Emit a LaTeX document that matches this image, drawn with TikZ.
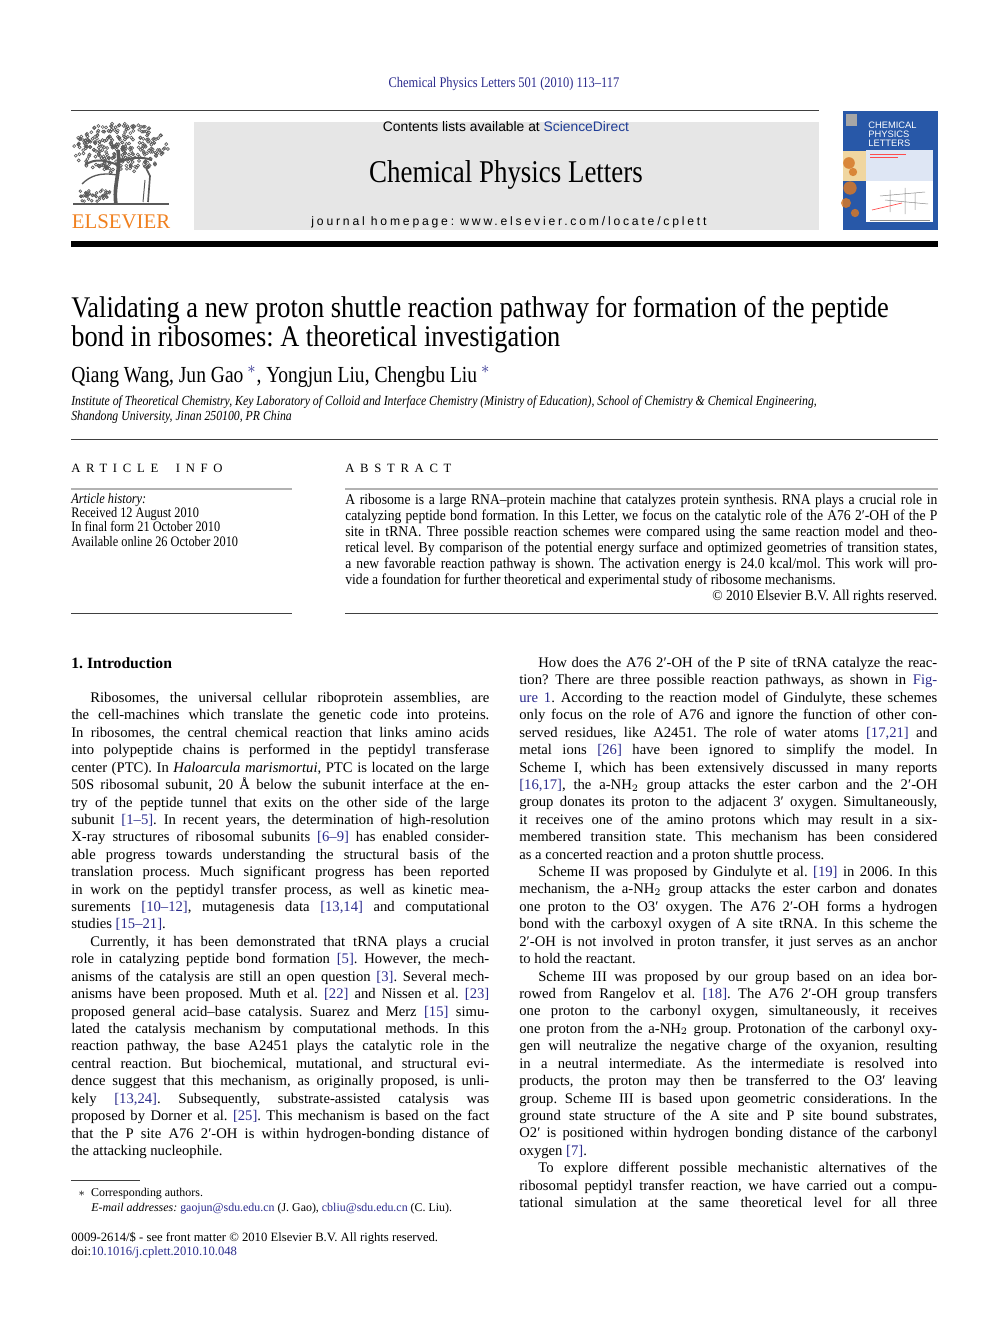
\documentclass[tikz,border=0pt]{standalone}
\usepackage{fontspec}
\setmainfont{Liberation Serif}
\setsansfont{Liberation Sans}
\newfontfamily\condfont{Liberation Serif}[FakeStretch=0.85, Ligatures=TeX]
\newfontfamily\titlefont{Liberation Serif}[FakeStretch=0.88, Ligatures=TeX]
\newfontfamily\absfont{Liberation Serif}[FakeStretch=0.91, Ligatures=TeX]
\newfontfamily\bodyfont{Liberation Serif}[Ligatures=TeX]
\newfontfamily\spacedsans{Liberation Sans}[LetterSpace=23]
\newfontfamily\spacedserif{Liberation Serif}[LetterSpace=45]
\frenchspacing

\definecolor{citeblue}{RGB}{42,42,140}
\definecolor{sdblue}{RGB}{30,60,150}
\definecolor{elsorange}{RGB}{240,128,30}
\definecolor{boxgray}{RGB}{230,230,230}
\definecolor{coverblue}{RGB}{40,88,168}
\definecolor{coverpeach}{RGB}{240,214,160}
\definecolor{coverpale}{RGB}{222,230,244}
\definecolor{coverorange}{RGB}{214,120,40}
\definecolor{treeink}{RGB}{90,90,90}

% one justified line, a last line, an indented line
\newcommand\fullline[1]{\hbox to\hsize{#1}}
\newcommand\lastline[1]{\hbox to\hsize{#1\hfil}}
\newcommand\indline[1]{\hbox to\hsize{\hskip11.4pt #1}}
\newcommand\rf[1]{\textcolor{citeblue}{#1}}
\newcommand\pr{′}

\tikzset{
  txt/.style={inner sep=0pt, anchor=base west},
  thinrule/.style={draw=black!75, line width=0.6pt},
  greyrule/.style={draw=black!30, line width=1.2pt},
}

\begin{document}
\begin{tikzpicture}[x=0.6pt, y=-0.6pt]
\useasboundingbox (0,0) rectangle (992,1323);

% journal header
\node[txt, anchor=base, text=citeblue, font=\condfont\fontsize{8.8}{10}\selectfont] (jref) at (504,87.5)
  {Chemical Physics Letters 501 (2010) 113--117};
\draw[thinrule] (71,111) -- (819,111);
\fill[boxgray] (194,122) rectangle (819,230);
\node[txt, anchor=base, font=\sffamily\fontsize{8.3}{9}\selectfont] (contents) at (506,132)
  {Contents lists available at \textcolor{sdblue}{ScienceDirect}};
\node[txt, anchor=base, font=\condfont\fontsize{19}{22}\selectfont] (jname) at (506,183)
  {Chemical Physics Letters};
\node[txt, anchor=base, font=\spacedsans\fontsize{7.3}{9}\selectfont] (homepage) at (509,225)
  {journal homepage: www.elsevier.com/locate/cplett};

% elsevier tree
\begin{scope}[treeink, line width=0.4pt]
  \pgfmathsetseed{11}
  \foreach \i in {1,...,300}{
    \pgfmathsetmacro\ang{rnd*360}
    \pgfmathsetmacro\rad{sqrt(rnd)}
    \draw ({120+48*\rad*cos(\ang)},{148+25*\rad*sin(\ang)}) circle[radius=0.9pt];
  }
  \draw[line width=2.2pt] (116,204) .. controls (113,186) and (121,172) .. (118,150);
  \draw[line width=1.2pt] (118,165) .. controls (105,160) and (95,158) .. (85,165);
  \draw[line width=1.2pt] (119,162) .. controls (130,158) and (140,156) .. (152,160);
  \draw[line width=0.8pt] (117,175) .. controls (100,172) and (90,176) .. (82,184);
  \draw[line width=1pt] (148,202) -- (150,176) -- (146,168);
  \draw (146,164) circle[radius=2pt];
  \draw[line width=0.6pt] (143,202) -- (145,180);
  \foreach \i in {1,...,40}{
    \pgfmathsetmacro\gx{80+rnd*30}
    \pgfmathsetmacro\gy{190+rnd*12}
    \draw ({\gx},{\gy}) circle[radius=0.8pt];
  }
  \draw[line width=0.8pt] (73,204) -- (169,204);
\end{scope}
\node[txt, anchor=base, text=elsorange, font=\bodyfont\fontsize{12.5}{14}\selectfont] (elsevier) at (121,228)
  {ELSEVIER};

% journal cover
\fill[coverblue] (843,111) rectangle (938,230);
\fill[coverpeach] (843,151) rectangle (866,181);
\fill[coverpale] (866,150) rectangle (933,181);
\fill[white] (866,181) rectangle (933,222);
\fill[black!35] (846,114) rectangle (857,126);
\foreach \cx/\cy/\cr in {849/163/3.5, 853/172/2.5, 850/188/4, 846/203/3, 855/213/2.5}
  \fill[coverorange, opacity=0.85] (\cx,\cy) circle[radius=\cr pt];
\node[inner sep=0pt, anchor=north west, align=left, text=white,
      font=\sffamily\fontsize{5.6}{5.4}\selectfont] (cover) at (868,122)
  {CHEMICAL\\PHYSICS\\LETTERS};
\draw[red!70, line width=0.4pt] (870,154) -- (906,154) (870,157) -- (898,157);
\draw[black!45, line width=0.3pt] (880,196) -- (925,192) (885,200) -- (928,204)
  (890,190) -- (890,212) (905,188) -- (905,214) (915,193) -- (915,210);
\draw[red!70, line width=0.4pt] (872,210) -- (902,203);
\draw[black!45, line width=0.3pt] (870,220) -- (930,220);

\fill[black] (71,241) rectangle (938,247);

% title block
\node[txt, font=\titlefont\fontsize{18}{17.4}\selectfont] (title) at (71,317)
  {\vtop{\hbox{Validating a new proton shuttle reaction pathway for formation of the peptide}
         \hbox{bond in ribosomes: A theoretical investigation}}};
\node[txt, font=\condfont\fontsize{13.8}{16}\selectfont] (authors) at (71,382)
  {Qiang Wang, Jun Gao\,\textcolor{citeblue}{$^{\ast}$}, Yongjun Liu, Chengbu Liu\,\textcolor{citeblue}{$^{\ast}$}};
\node[txt, font=\condfont\itshape\fontsize{8.3}{9}\selectfont] (affil) at (71,405)
  {\vtop{\hbox{Institute of Theoretical Chemistry, Key Laboratory of Colloid and Interface Chemistry (Ministry of Education), School of Chemistry \& Chemical Engineering,}
         \hbox{Shandong University, Jinan 250100, PR China}}};
\draw[thinrule] (71,439) -- (938,439);

% article info and abstract
\node[txt, font=\spacedserif\fontsize{7.6}{9}\selectfont] (infohead) at (71,472) {ARTICLE\ \ INFO};
\node[txt, font=\spacedserif\fontsize{7.6}{9}\selectfont] (abshead) at (345,472) {ABSTRACT};
\draw[greyrule] (71,489) -- (292,489);
\draw[greyrule] (345,489) -- (938,489);
\node[txt, font=\condfont\fontsize{8.7}{8.64}\selectfont] (history) at (71,503)
  {\vtop{\hbox{\itshape Article history:}
         \hbox{Received 12 August 2010}
         \hbox{In final form 21 October 2010}
         \hbox{Available online 26 October 2010}}};
\node[txt, font=\absfont\fontsize{9}{9.6}\selectfont] (abstract) at (345,504)
  {\vtop{\hsize=355.2pt
    \fullline{A ribosome is a large RNA--protein machine that catalyzes protein synthesis. RNA plays a crucial role in}
    \fullline{catalyzing peptide bond formation. In this Letter, we focus on the catalytic role of the A76 2\pr-OH of the P}
    \fullline{site in tRNA. Three possible reaction schemes were compared using the same reaction model and theo-}
    \fullline{retical level. By comparison of the potential energy surface and optimized geometries of transition states,}
    \fullline{a new favorable reaction pathway is shown. The activation energy is 24.0 kcal/mol. This work will pro-}
    \lastline{vide a foundation for further theoretical and experimental study of ribosome mechanisms.}
    \hbox to\hsize{\hfil\textcopyright\ 2010 Elsevier B.V. All rights reserved.}}};
\draw[thinrule] (71,613) -- (292,613);
\draw[thinrule] (345,613) -- (938,613);

% left column
\node[txt, font=\bodyfont\bfseries\fontsize{9.4}{10}\selectfont] (introhead) at (71,668) {1. Introduction};
\node[txt, font=\bodyfont\fontsize{8.8}{10.452}\selectfont] (leftcol) at (71,702.5)
  {\vtop{\hsize=250.8pt
    \indline{Ribosomes, the universal cellular riboprotein assemblies, are}
    \fullline{the cell-machines which translate the genetic code into proteins.}
    \fullline{In ribosomes, the central chemical reaction that links amino acids}
    \fullline{into polypeptide chains is performed in the peptidyl transferase}
    \fullline{center (PTC). In \textit{Haloarcula marismortui}, PTC is located on the large}
    \fullline{50S ribosomal subunit, 20 Å below the subunit interface at the en-}
    \fullline{try of the peptide tunnel that exits on the other side of the large}
    \fullline{subunit \rf{[1--5]}. In recent years, the determination of high-resolution}
    \fullline{X-ray structures of ribosomal subunits \rf{[6--9]} has enabled consider-}
    \fullline{able progress towards understanding the structural basis of the}
    \fullline{translation process. Much significant progress has been reported}
    \fullline{in work on the peptidyl transfer process, as well as kinetic mea-}
    \fullline{surements \rf{[10--12]}, mutagenesis data \rf{[13,14]} and computational}
    \lastline{studies \rf{[15--21]}.}
    \indline{Currently, it has been demonstrated that tRNA plays a crucial}
    \fullline{role in catalyzing peptide bond formation \rf{[5]}. However, the mech-}
    \fullline{anisms of the catalysis are still an open question \rf{[3]}. Several mech-}
    \fullline{anisms have been proposed. Muth et al. \rf{[22]} and Nissen et al. \rf{[23]}}
    \fullline{proposed general acid--base catalysis. Suarez and Merz \rf{[15]} simu-}
    \fullline{lated the catalysis mechanism by computational methods. In this}
    \fullline{reaction pathway, the base A2451 plays the catalytic role in the}
    \fullline{central reaction. But biochemical, mutational, and structural evi-}
    \fullline{dence suggest that this mechanism, as originally proposed, is unli-}
    \fullline{kely \rf{[13,24]}. Subsequently, substrate-assisted catalysis was}
    \fullline{proposed by Dorner et al. \rf{[25]}. This mechanism is based on the fact}
    \fullline{that the P site A76 2\pr-OH is within hydrogen-bonding distance of}
    \lastline{the attacking nucleophile.}}};

% right column
\node[txt, font=\bodyfont\fontsize{8.8}{10.452}\selectfont] (rightcol) at (519,667.5)
  {\vtop{\hsize=250.8pt
    \indline{How does the A76 2\pr-OH of the P site of tRNA catalyze the reac-}
    \fullline{tion? There are three possible reaction pathways, as shown in \rf{Fig-}}
    \fullline{\rf{ure 1}. According to the reaction model of Gindulyte, these schemes}
    \fullline{only focus on the role of A76 and ignore the function of other con-}
    \fullline{served residues, like A2451. The role of water atoms \rf{[17,21]} and}
    \fullline{metal ions \rf{[26]} have been ignored to simplify the model. In}
    \fullline{Scheme I, which has been extensively discussed in many reports}
    \fullline{\rf{[16,17]}, the a-NH$_2$ group attacks the ester carbon and the 2\pr-OH}
    \fullline{group donates its proton to the adjacent 3\pr\ oxygen. Simultaneously,}
    \fullline{it receives one of the amino protons which may result in a six-}
    \fullline{membered transition state. This mechanism has been considered}
    \lastline{as a concerted reaction and a proton shuttle process.}
    \indline{Scheme II was proposed by Gindulyte et al. \rf{[19]} in 2006. In this}
    \fullline{mechanism, the a-NH$_2$ group attacks the ester carbon and donates}
    \fullline{one proton to the O3\pr\ oxygen. The A76 2\pr-OH forms a hydrogen}
    \fullline{bond with the carboxyl oxygen of A site tRNA. In this scheme the}
    \fullline{2\pr-OH is not involved in proton transfer, it just serves as an anchor}
    \lastline{to hold the reactant.}
    \indline{Scheme III was proposed by our group based on an idea bor-}
    \fullline{rowed from Rangelov et al. \rf{[18]}. The A76 2\pr-OH group transfers}
    \fullline{one proton to the carbonyl oxygen, simultaneously, it receives}
    \fullline{one proton from the a-NH$_2$ group. Protonation of the carbonyl oxy-}
    \fullline{gen will neutralize the negative charge of the oxyanion, resulting}
    \fullline{in a neutral intermediate. As the intermediate is resolved into}
    \fullline{products, the proton may then be transferred to the O3\pr\ leaving}
    \fullline{group. Scheme III is based upon geometric considerations. In the}
    \fullline{ground state structure of the A site and P site bound substrates,}
    \fullline{O2\pr\ is positioned within hydrogen bonding distance of the carbonyl}
    \lastline{oxygen \rf{[7]}.}
    \indline{To explore different possible mechanistic alternatives of the}
    \fullline{ribosomal peptidyl transfer reaction, we have carried out a compu-}
    \fullline{tational simulation at the same theoretical level for all three}}};

% footnotes
\draw[thinrule, line width=0.5pt] (71,1180) -- (140,1180);
\node[txt, font=\bodyfont\fontsize{7.15}{8.8}\selectfont] (footnote) at (78,1196.5)
  {\vtop{\hbox{$\ast$\ \ Corresponding authors.}
         \hbox{\hskip 7.8pt\textit{E-mail addresses:} \rf{gaojun@sdu.edu.cn} (J. Gao), \rf{cbliu@sdu.edu.cn} (C. Liu).}}};
\node[txt, font=\bodyfont\fontsize{7.6}{8.4}\selectfont] (frontmatter) at (71,1241.5)
  {\vtop{\hbox{0009-2614/\$ - see front matter \textcopyright\ 2010 Elsevier B.V. All rights reserved.}
         \hbox{doi:\rf{10.1016/j.cplett.2010.10.048}}}};
\end{tikzpicture}
\end{document}
